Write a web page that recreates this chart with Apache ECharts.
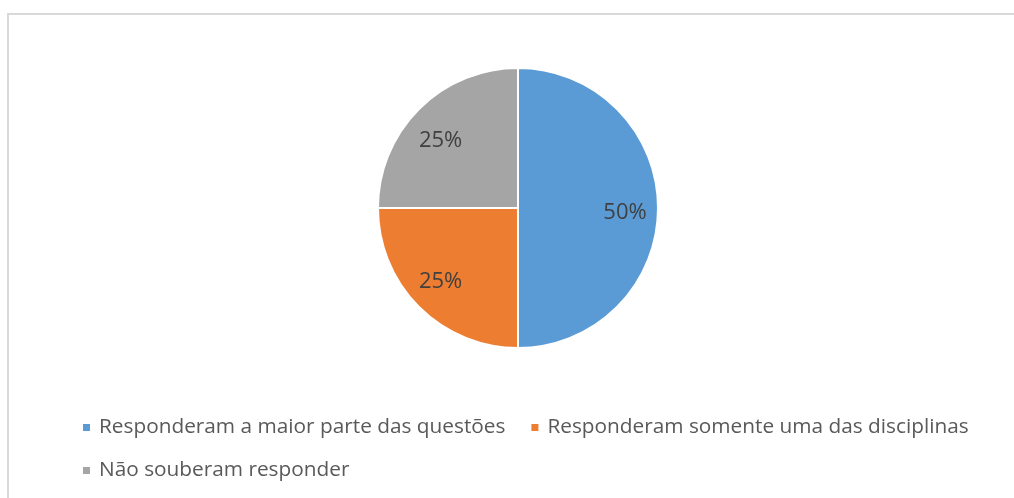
<!DOCTYPE html>
<html>
<head>
<meta charset="utf-8">
<script src="https://cdn.jsdelivr.net/npm/echarts@6/dist/echarts.min.js"></script>
<style>
  html, body { margin: 0; padding: 0; background: #fff; }
  #chart { width: 1014px; height: 498px; }
</style>
</head>
<body>
<div id="chart"></div>
<script>
// dados do gráfico
const categorias = [
  'Responderam a maior parte das questões',
  'Responderam somente uma das disciplinas',
  'Não souberam responder'
]
const valores = [50, 25, 25]
const cores = ['#5b9bd5', '#ed7d31', '#a5a5a5']

const dados = categorias.map((nome, i) => ({ name: nome, value: valores[i] }))

// ajuste fino dos rótulos (estilo Excel, não exatamente radial)
const ajustesRotulo = [[-1, 5], [-1, -3], [-1, 9]]
const dadosRotulo = dados.map((d, i) => ({
  name: d.name,
  value: d.value,
  label: { offset: ajustesRotulo[i] }
}))

const chart = echarts.init(document.getElementById('chart'))

const legendaBase = {
  orient: 'horizontal',
  left: 76,
  icon: 'rect',
  itemWidth: 9,
  itemHeight: 9,
  itemGap: 24,
  selectedMode: false,
  textStyle: {
    color: '#595959',
    fontSize: 20.8,
    fontFamily: 'Open Sans',
    padding: [0, 0, 0, 3]
  }
}

const option = {
  animation: false,
  color: cores,
  graphic: [
    {
      type: 'rect',
      shape: { x: 8, y: 14, width: 1010, height: 500 },
      style: { fill: 'none', stroke: '#d9d9d9', lineWidth: 2 },
      silent: true
    }
  ],
  legend: [
    Object.assign({}, legendaBase, { top: 412, data: [categorias[0], categorias[1]] }),
    Object.assign({}, legendaBase, { top: 455, data: [categorias[2]] })
  ],
  series: [
    {
      name: 'fatias',
      type: 'pie',
      center: [518, 208],
      radius: 140,
      startAngle: 90,
      clockwise: true,
      itemStyle: { borderColor: '#fff', borderWidth: 2 },
      label: { show: false },
      labelLine: { show: false },
      emphasis: { disabled: true },
      data: dados
    },
    {
      // anel invisível só para posicionar os rótulos
      name: 'rotulos',
      type: 'pie',
      center: [518, 208],
      radius: [70, 140],
      startAngle: 90,
      clockwise: true,
      silent: true,
      itemStyle: { color: 'rgba(0,0,0,0)' },
      label: {
        show: true,
        position: 'inside',
        formatter: '{c}%',
        color: '#404040',
        fontSize: 22,
        fontFamily: 'Open Sans'
      },
      labelLine: { show: false },
      emphasis: { disabled: true },
      data: dadosRotulo
    }
  ]
}

chart.setOption(option)
</script>
</body>
</html>
